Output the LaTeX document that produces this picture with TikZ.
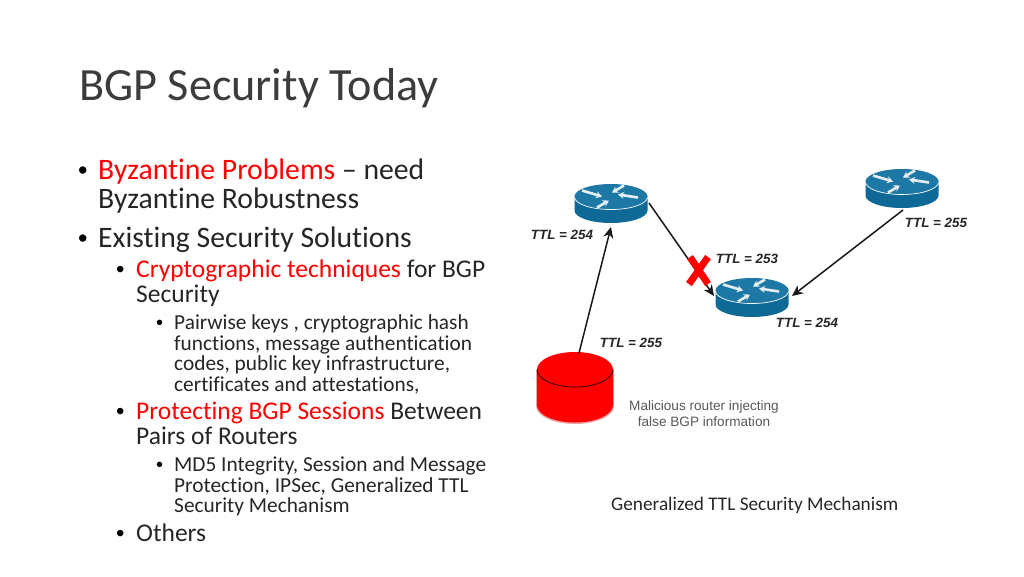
\documentclass[tikz,border=0pt]{standalone}
\usepackage{fontspec}
\setmainfont{Carlito}[Ligatures=NoCommon]
\newfontfamily\arialf{Liberation Sans}
\usetikzlibrary{arrows.meta}
\definecolor{bred}{RGB}{255,0,0}
\definecolor{rtop}{RGB}{30,120,165}
\definecolor{rside}{RGB}{15,105,150}
\definecolor{tdark}{RGB}{38,38,38}
\tikzset{
  x=1pt,y=-1pt,
  ttitle/.style={anchor=base west,inner sep=0,text=tdark!90,font=\fontsize{46.2}{46.2}\selectfont},
  lone/.style={anchor=base west,inner sep=0,text=tdark,font=\fontsize{29.7}{29.7}\selectfont},
  ltwo/.style={anchor=base west,inner sep=0,text=tdark,font=\fontsize{25.5}{25.5}\selectfont},
  lthree/.style={anchor=base west,inner sep=0,text=tdark,font=\fontsize{21.35}{21.35}\selectfont},
  bullet/.style={anchor=base west,inner sep=0,font=\arialf\fontsize{#1}{#1}\selectfont},
  ttl/.style={inner sep=0,text=black!85,font=\arialf\bfseries\itshape\fontsize{13.4}{13.4}\selectfont},
  note/.style={inner sep=0,text=black!65,font=\arialf\fontsize{13.6}{16}\selectfont,align=center},
  captext/.style={anchor=base west,inner sep=0,text=tdark,font=\fontsize{19.27}{19.27}\selectfont},
  rbox/.style={inner sep=0,minimum width=73pt,minimum height=39pt},
  link/.style={draw=black!90,line width=1.5pt,-{Stealth[length=11pt,width=10pt]}},
  warr/.style={draw=white!88!rtop,line width=2.6pt,-{Stealth[length=6pt,width=7pt]}},
}
\newcommand{\routerat}[2]{%
  \begin{scope}[shift={(#1,#2)}]
    \fill[rside] (-36.5,-7.5) -- (-36.5,7) arc[start angle=180,end angle=0,x radius=36.5,y radius=12.5] -- (36.5,-7.5) -- cycle;
    \fill[rtop] (0,-7) ellipse[x radius=36.5,y radius=12.5];
    \draw[white,line width=0.7pt] (-36.5,-6.5) arc[start angle=180,end angle=0,x radius=36.5,y radius=12.5];
    \draw[warr] (-29,-13) -- (-9,-7);
    \draw[warr] (27,-6) -- (7,-9);
    \draw[warr] (13,-18) -- (1,-11);
    \draw[warr] (-14,4) -- (-2,-3);
  \end{scope}}
\begin{document}
\begin{tikzpicture}
\useasboundingbox (0,0) rectangle (1024,576);
\fill[white] (0,0) rectangle (1024,576);
\node[ttitle] (title) at (79,100) {BGP Security Today};
\node[bullet=27] (b1) at (78,179) {•};
\node[lone] (t1) at (98,179) {\textcolor{bred}{Byzantine Problems} – need};
\node[lone] (t1b) at (98,208) {Byzantine Robustness};
\node[bullet=27] (b2) at (78,247) {•};
\node[lone] (t2) at (98,247) {Existing Security Solutions};
\node[bullet=24] (b3) at (116,277) {•};
\node[ltwo] (t3) at (136,277) {\textcolor{bred}{Cryptographic techniques} for BGP};
\node[ltwo] (t3b) at (136,302) {Security};
\node[bullet=20] (b4) at (156,329) {•};
\node[lthree] (t4) at (174,329) {Pairwise keys , cryptographic hash};
\node[lthree] (t4b) at (174,350) {functions, message authentication};
\node[lthree] (t4c) at (174,370) {codes, public key infrastructure,};
\node[lthree] (t4d) at (174,391) {certificates and attestations,};
\node[bullet=24] (b5) at (116,419) {•};
\node[ltwo] (t5) at (136,419) {\textcolor{bred}{Protecting BGP Sessions} Between};
\node[ltwo] (t5b) at (136,444) {Pairs of Routers};
\node[bullet=20] (b6) at (156,471) {•};
\node[lthree] (t6) at (174,471) {MD5 Integrity, Session and Message};
\node[lthree] (t6b) at (174,492) {Protection, IPSec, Generalized TTL};
\node[lthree] (t6c) at (174,512) {Security Mechanism};
\node[bullet=24] (b7) at (116,541) {•};
\node[ltwo] (t7) at (136,541) {Others};
\node[captext] (caption) at (611,510) {Generalized TTL Security Mechanism};
% routers
\routerat{611}{203.5}
\routerat{902}{188.5}
\routerat{752}{297.5}
\node[rbox] (ra) at (611,203.5) {};
\node[rbox] (rb) at (902,188.5) {};
\node[rbox] (rc) at (752,297.5) {};
% malicious router
\fill[red!75!black,opacity=.35] (536,370) -- (536,406) arc[start angle=180,end angle=0,x radius=39,y radius=18] -- (614,370) -- cycle;
\fill[bred] (537,369) -- (537,405) arc[start angle=180,end angle=0,x radius=38,y radius=17.5] -- (613,369) -- cycle;
\fill[bred] (575,369.5) ellipse[x radius=38,y radius=17.5];
\draw[black!80!red,line width=0.8pt] (537,369.5) arc[start angle=180,end angle=0,x radius=38,y radius=17.5];
\node[inner sep=0,minimum width=76pt,minimum height=70pt] (mal) at (575,387) {};
% connectors
\coordinate (a1) at (649,203);
\coordinate (c1) at (714,296);
\coordinate (b2s) at (903,210);
\coordinate (c2) at (792,296);
\coordinate (m1) at (579,353);
\coordinate (a2) at (611,227);
\draw[link] (a1) -- (c1);
\draw[link] (b2s) -- (c2);
\draw[link] (m1) -- (a2);
% red X
\draw[bred,line width=7pt] (690,257) -- (708,284) (708,257) -- (689,284);
% labels
\node[ttl] (l1) at (562,235) {TTL = 254};
\node[ttl] (l2) at (936,223) {TTL = 255};
\node[ttl] (l3) at (747,259) {TTL = 253};
\node[ttl] (l4) at (807,323) {TTL = 254};
\node[ttl] (l5) at (631,343) {TTL = 255};
\node[note] (n1) at (704,414) {Malicious router injecting\\false BGP information};
\end{tikzpicture}
\end{document}
